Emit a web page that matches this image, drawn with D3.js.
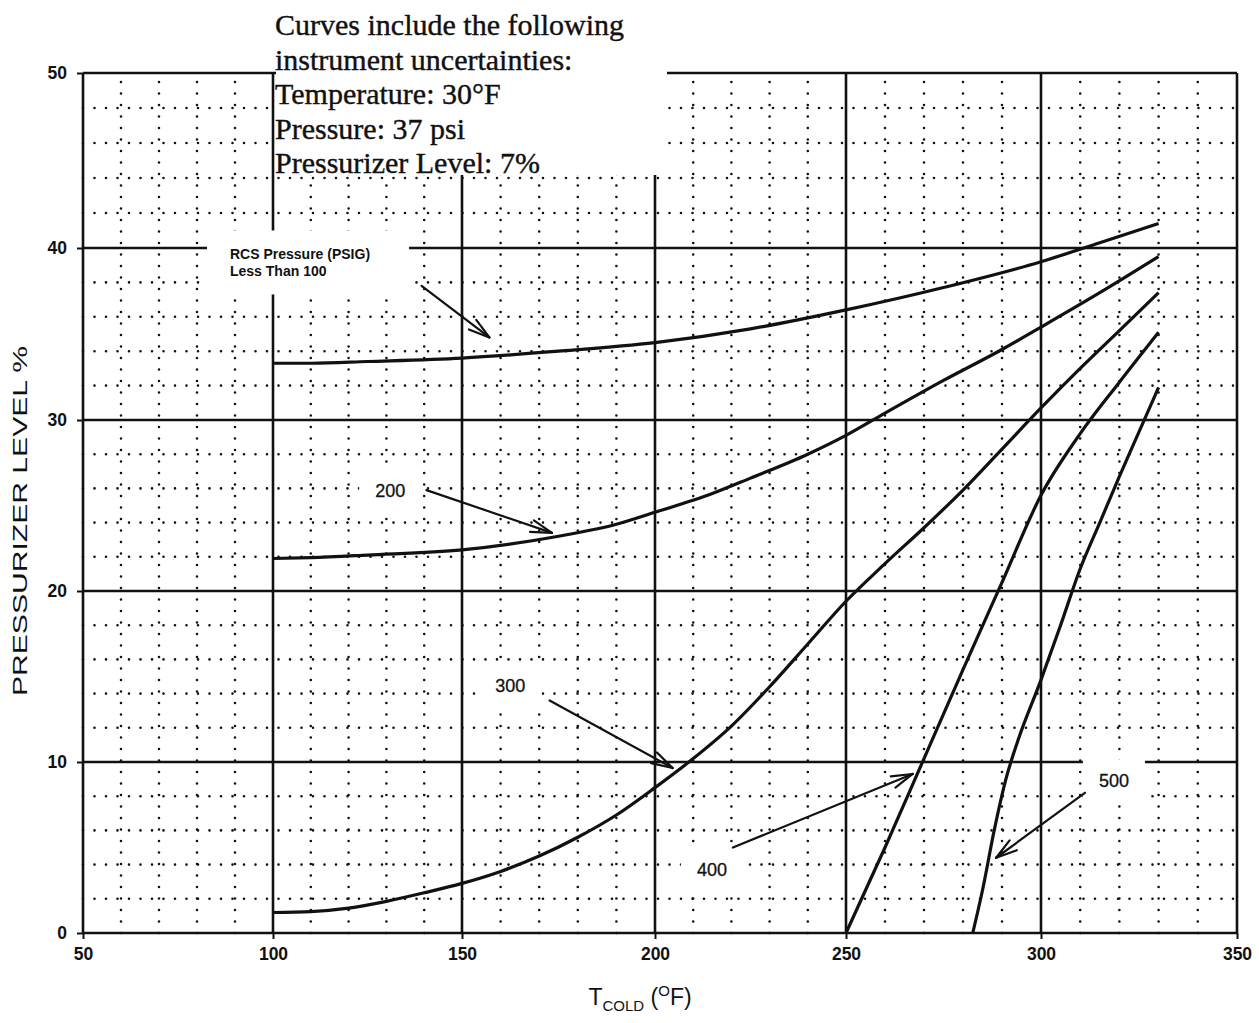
<!DOCTYPE html>
<html><head><meta charset="utf-8">
<script src="https://cdn.jsdelivr.net/npm/d3@7"></script>
<style>body{margin:0;background:#fff}svg{display:block}</style>
</head><body>
<svg id="c" width="1259" height="1023"></svg>
<script>
// ---- data ----
const xTicks = [50,100,150,200,250,300,350];
const yTicks = [0,10,20,30,40,50];

const tcold100 = [100,110,125,150,175,200,225,250,275,300,315,330];
const level100 = [33.3,33.3,33.4,33.6,34.0,34.5,35.3,36.4,37.7,39.2,40.3,41.4];

const tcold200 = [100,110,125,150,175,190,200,215,225,240,250,260,275,290,300,315,330];
const level200 = [21.9,21.95,22.1,22.4,23.2,23.9,24.6,25.7,26.6,28.0,29.1,30.4,32.3,34.1,35.4,37.4,39.5];

const tcold300 = [100,110,120,130,140,150,160,170,180,190,200,210,220,230,240,250,260,270,280,290,300,310,320,330];
const level300 = [1.2,1.25,1.45,1.85,2.35,2.9,3.6,4.5,5.6,6.9,8.5,10.2,12.1,14.4,16.9,19.4,21.6,23.7,25.9,28.3,30.7,33.0,35.2,37.4];

const tcold400 = [250,260,270,280,290,300,310,320,330];
const level400 = [0,5.0,10.2,15.4,20.5,25.6,29.2,32.2,35.1];

const tcold500 = [282.5,285,288,291,294,300,305,310,315,320,325,330];
const level500 = [0,2.5,6.0,9.0,11.2,14.8,18.0,21.3,24.0,26.7,29.3,31.9];

const curveLabels = ["200","300","400","500"];
const labelAt = [[131,25.9],[162.5,14.5],[214.9,3.7],[318.6,8.9]];
const arrowFrom = [[139.3,37.8],[140.6,25.9],[172.7,13.6],[220.4,5.0],[311.2,8.2]];
const arrowTo   = [[157.1,34.8],[173.3,23.4],[204.6,9.65],[267.1,9.3],[288.5,4.4]];
const noteLines = ["Curves include the following","instrument uncertainties:","Temperature: 30\u00B0F","Pressure: 37 psi","Pressurizer Level: 7%"];

// ---- drawing ----
const svg = d3.select("#c");
const ink = "#111";
const x = d3.scaleLinear().domain(xTicks).range([83,273,462,655,846,1041,1237]);
const y = d3.scaleLinear().domain(yTicks).range([933,762,591,420,248,73]);

svg.append("rect").attr("width",1259).attr("height",1023).attr("fill","#fff");

// minor dotted grid
const minorX = d3.range(60,350,10).filter(v=>v%50!==0);
const minorY = d3.range(2,50,2).filter(v=>v%10!==0);
const dot = s => s.attr("stroke",ink).attr("stroke-width",2.6).attr("stroke-linecap","round").attr("stroke-dasharray","0 11.5");
svg.append("g").selectAll("line").data(minorX).join("line")
  .attr("x1",d=>x(d)).attr("x2",d=>x(d)).attr("y1",y(0)).attr("y2",y(50)).call(dot);
svg.append("g").selectAll("line").data(minorY).join("line")
  .attr("y1",d=>y(d)).attr("y2",d=>y(d)).attr("x1",x(50)).attr("x2",x(350)).call(dot);

// major solid grid + frame
svg.append("g").selectAll("line").data(xTicks).join("line")
  .attr("x1",d=>x(d)).attr("x2",d=>x(d)).attr("y1",y(0)).attr("y2",y(50))
  .attr("stroke",ink).attr("stroke-width",2.6);
svg.append("g").selectAll("line").data(yTicks).join("line")
  .attr("y1",d=>y(d)).attr("y2",d=>y(d)).attr("x1",x(50)).attr("x2",x(350))
  .attr("stroke",ink).attr("stroke-width",2.6);

// axes (ticks + labels)
const fontSans = "'Liberation Sans', Arial, sans-serif";
const ax = svg.append("g").attr("transform",`translate(0,${y(0)})`)
  .call(d3.axisBottom(x).tickValues(xTicks).tickSize(6).tickPadding(9).tickFormat(d3.format("d")));
const ay = svg.append("g").attr("transform",`translate(${x(50)},0)`)
  .call(d3.axisLeft(y).tickValues(yTicks).tickSize(6).tickPadding(10).tickFormat(d3.format("d")));
[ax,ay].forEach(a=>{
  a.select(".domain").remove();
  a.selectAll(".tick line").attr("stroke",ink).attr("stroke-width",2);
  a.selectAll(".tick text").attr("fill",ink).style("font-family",fontSans).style("font-size","17.5px").style("font-weight","bold");
});

// white label backgrounds
svg.append("rect").attr("x",x(100)+3).attr("y",0).attr("width",x(200)+12-(x(100)+3)).attr("height",y(44)-3).attr("fill","#fff");
svg.append("rect").attr("x",x(100)-66).attr("y",y(41)).attr("width",x(136)-(x(100)-66)).attr("height",y(37.3)-y(41)).attr("fill","#fff");

// note text
svg.append("g").selectAll("text").data(noteLines).join("text")
  .attr("x",x(100)+2).attr("y",(d,i)=>35+i*34.5)
  .attr("fill",ink).attr("stroke",ink).attr("stroke-width",0.4)
  .style("font-family","'Liberation Serif','Times New Roman',serif").style("font-size","30px")
  .text(d=>d);

// curves
const line = d3.line().x(d=>x(d[0])).y(d=>y(d[1])).curve(d3.curveMonotoneX);
const series = [[tcold100,level100],[tcold200,level200],[tcold300,level300],[tcold400,level400],[tcold500,level500]];
svg.append("g").selectAll("path").data(series).join("path")
  .attr("d",s=>line(s[0].map((t,i)=>[t,s[1][i]])))
  .attr("fill","none").attr("stroke",ink).attr("stroke-width",3.2).attr("stroke-linejoin","round");

// numeric labels with white background
const lg = svg.append("g");
curveLabels.forEach((t,i)=>{
  const cx = x(labelAt[i][0]), cy = y(labelAt[i][1]);
  const txt = lg.append("text").attr("x",cx).attr("y",cy).attr("dy","0.36em").attr("text-anchor","middle")
    .attr("fill",ink).attr("stroke",ink).attr("stroke-width",0.3)
    .style("font-family",fontSans).style("font-size","18px").text(t);
  const b = txt.node().getBBox();
  lg.insert("rect","text").attr("x",b.x-16).attr("y",b.y-12).attr("width",b.width+32).attr("height",b.height+24).attr("fill","#fff");
});

// RCS label
const rcs = svg.append("text").attr("fill",ink).style("font-family",fontSans).style("font-size","14px").style("font-weight","bold");
rcs.append("tspan").attr("x",x(100)-43).attr("y",y(39.35)).text("RCS Pressure (PSIG)");
rcs.append("tspan").attr("x",x(100)-43).attr("y",y(38.4)).text("Less Than 100");

// arrows
const ag = svg.append("g").attr("stroke",ink).attr("stroke-width",2.2).attr("fill","none").attr("stroke-linecap","round");
arrowFrom.forEach((f,i)=>{
  const x1=x(f[0]), y1=y(f[1]), x2=x(arrowTo[i][0]), y2=y(arrowTo[i][1]);
  ag.append("line").attr("x1",x1).attr("y1",y1).attr("x2",x2).attr("y2",y2);
  const a = Math.atan2(y1-y2,x1-x2), L=22, w=0.28;
  [a+w,a-w].forEach(b=>ag.append("line").attr("x1",x2).attr("y1",y2).attr("x2",x2+L*Math.cos(b)).attr("y2",y2+L*Math.sin(b)));
});

// axis titles
const xt = svg.append("text").attr("x",640).attr("y",1005).attr("text-anchor","middle").attr("fill",ink)
  .style("font-family",fontSans).style("font-size","23px");
xt.append("tspan").text("T");
xt.append("tspan").attr("dy",6).style("font-size","15px").text("COLD");
xt.append("tspan").attr("dy",-6).text(" (");
xt.append("tspan").attr("dy",-9).style("font-size","15px").text("O");
xt.append("tspan").attr("dy",9).text("F)");

svg.append("text").attr("transform","translate(27,521) rotate(-90)").attr("text-anchor","middle").attr("fill",ink)
  .style("font-family",fontSans).style("font-size","21px").attr("textLength",350).attr("lengthAdjust","spacingAndGlyphs")
  .text("PRESSURIZER LEVEL %");
</script>
</body></html>
